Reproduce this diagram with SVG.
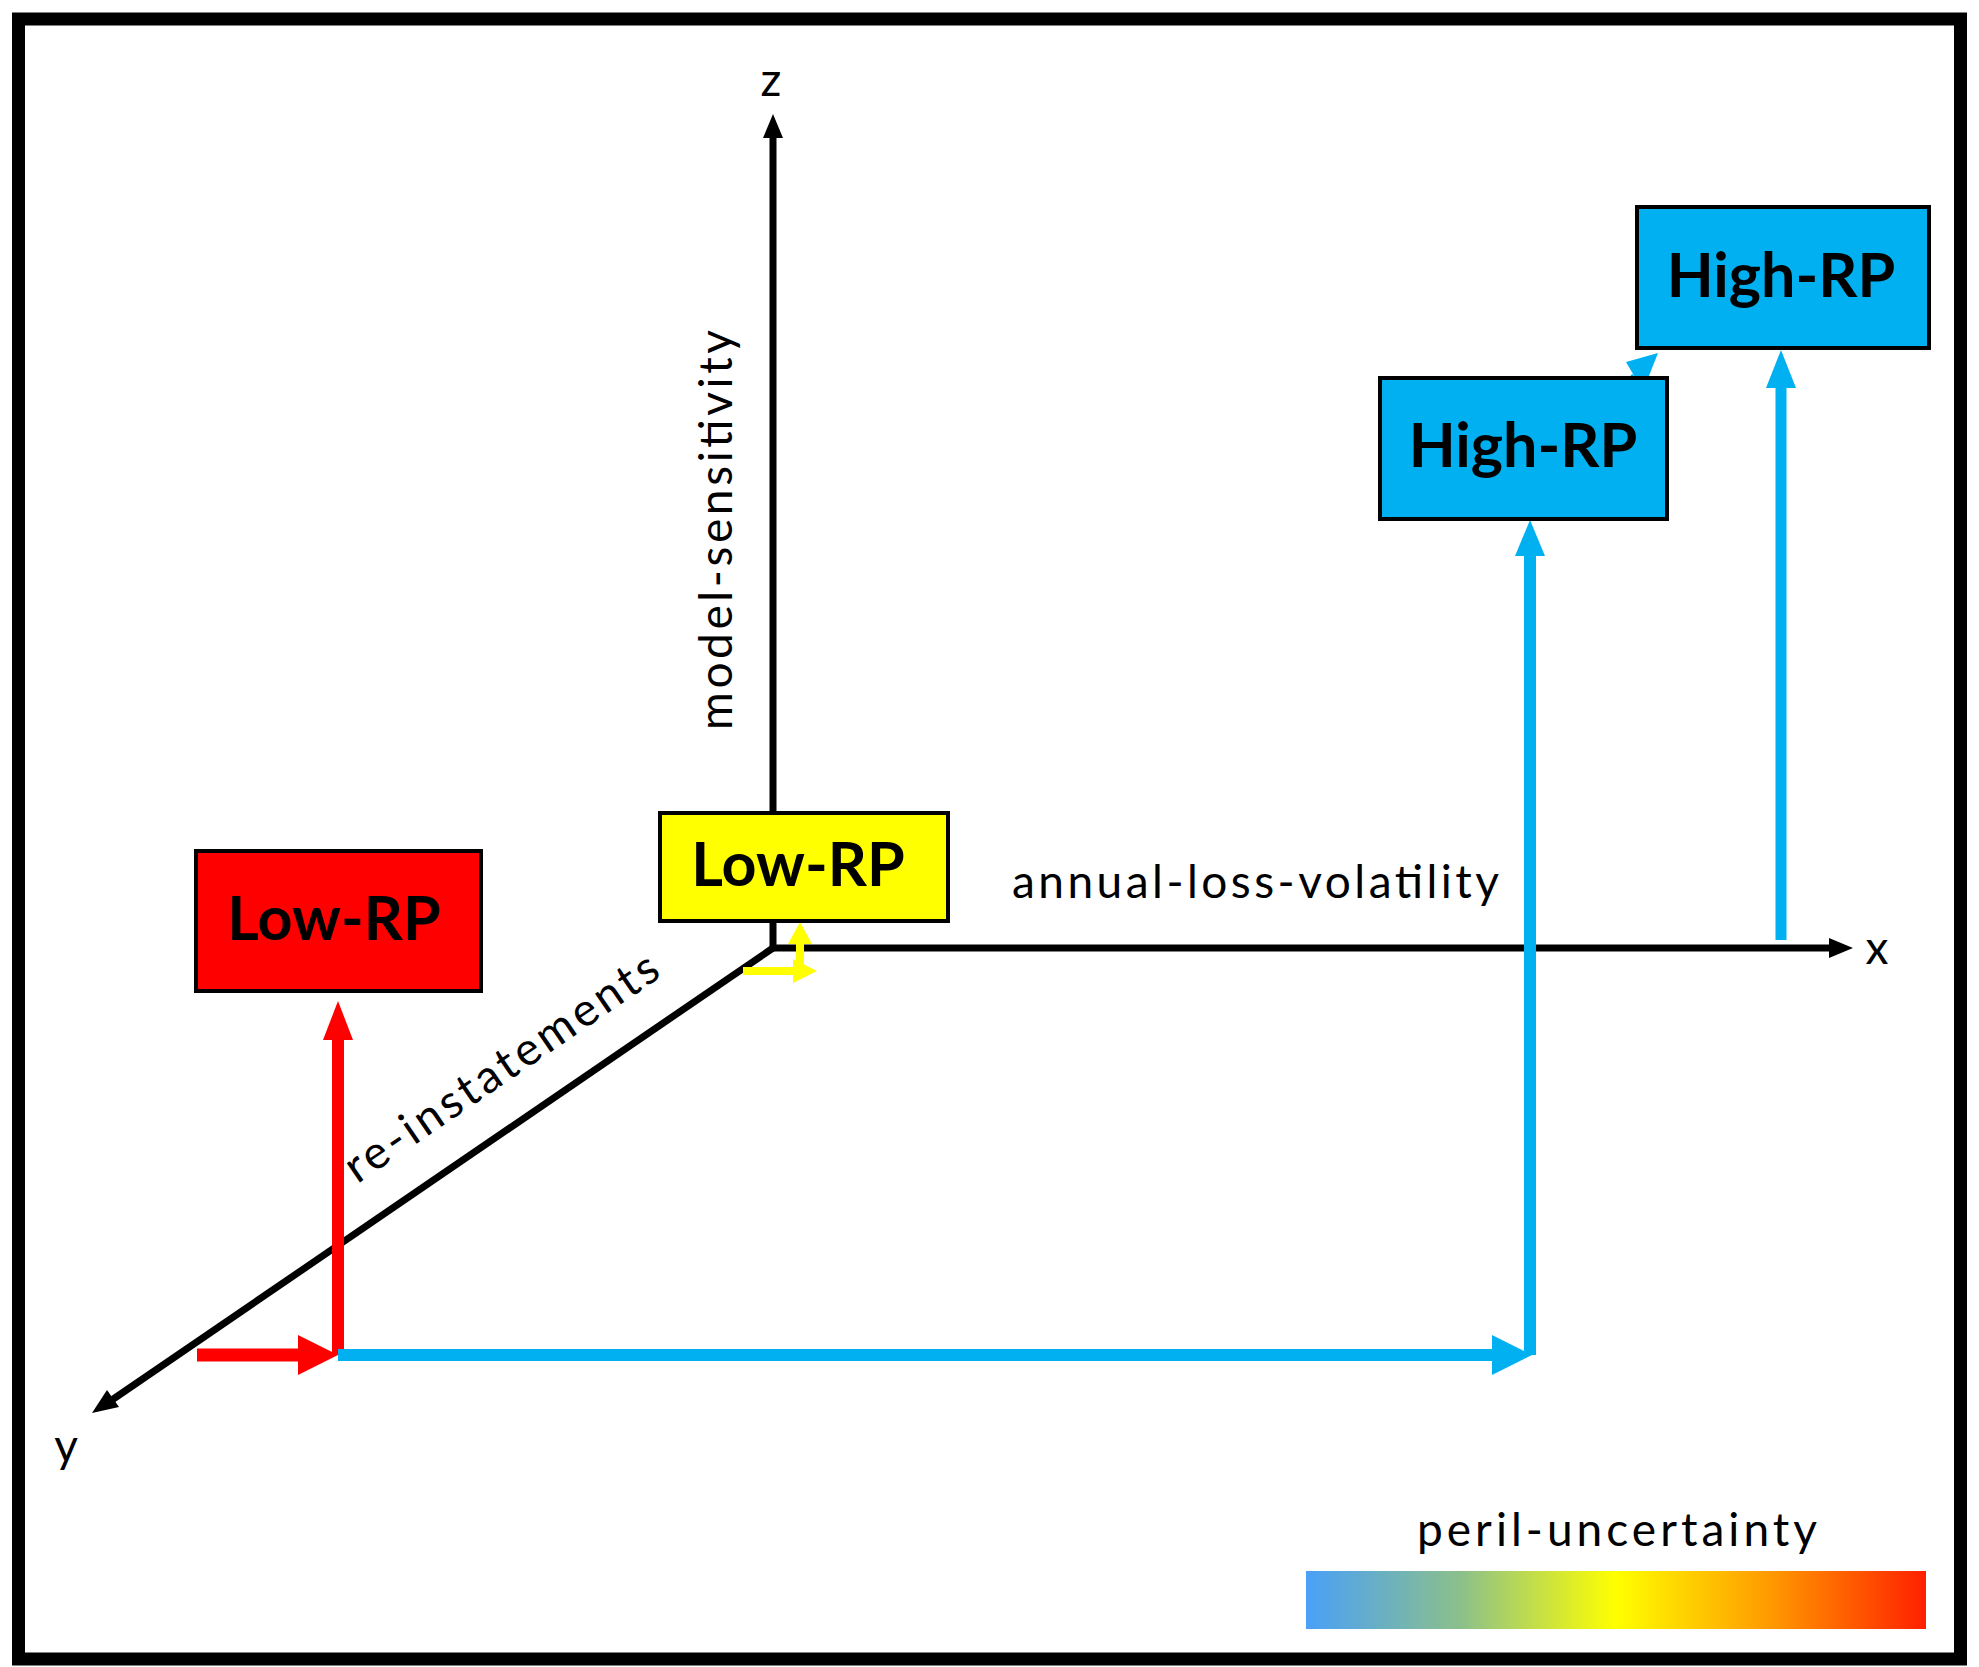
<svg xmlns="http://www.w3.org/2000/svg" width="1979" height="1667" viewBox="0 0 1979 1667">
<style>
.lbl{font-family:Lato,"Open Sans","DejaVu Sans",sans-serif;font-size:46px;fill:#000}
.node{font-family:Lato,"Open Sans","DejaVu Sans",sans-serif;font-weight:bold;font-size:61px;fill:#000;text-anchor:middle}
.box{stroke:#000;stroke-width:4}
</style>
<defs>
<linearGradient id="g" x1="0" x2="1" y1="0" y2="0">
<stop offset="0" stop-color="#4aa0f8"/>
<stop offset="0.25" stop-color="#8cc08a"/>
<stop offset="0.5" stop-color="#ffff00"/>
<stop offset="0.75" stop-color="#ff9900"/>
<stop offset="1" stop-color="#ff2000"/>
</linearGradient>
</defs>
<rect x="18.5" y="19" width="1942" height="1640" fill="#fff" stroke="#000" stroke-width="13"/>
<g id="connectors">
<!-- axes -->
<g stroke="#000" stroke-width="7" fill="none">
<line x1="773" y1="948" x2="773" y2="128"/>
<line x1="773" y1="948" x2="1835" y2="948"/>
<line x1="773" y1="948" x2="106" y2="1404"/>
</g>
<polygon points="773,114 763,138 783,138" fill="#000"/>
<polygon points="1853,948 1829,938 1829,958" fill="#000"/>
<polygon points="92,1413 107,1390 119,1407" fill="#000"/>
<!-- red -->
<line x1="197" y1="1355" x2="300" y2="1355" stroke="#f00" stroke-width="13"/>
<polygon points="338,1355 298,1335 298,1375" fill="#f00"/>
<line x1="338" y1="1355" x2="338" y2="1035" stroke="#f00" stroke-width="12"/>
<polygon points="338,1001 323,1040 353,1040" fill="#f00"/>
<!-- blue -->
<line x1="338" y1="1355" x2="1495" y2="1355" stroke="#00b0f0" stroke-width="12"/>
<polygon points="1532,1355 1492,1335 1492,1375" fill="#00b0f0"/>
<line x1="1530" y1="1355" x2="1530" y2="555" stroke="#00b0f0" stroke-width="12"/>
<polygon points="1530,520 1515,556 1545,556" fill="#00b0f0"/>
<line x1="1781" y1="940" x2="1781" y2="385" stroke="#00b0f0" stroke-width="11"/>
<polygon points="1781,350 1766,388 1796,388" fill="#00b0f0"/>
<line x1="1583" y1="427" x2="1636" y2="378" stroke="#00b0f0" stroke-width="11"/>
<polygon points="1658,353 1626,362 1643,391" fill="#00b0f0"/>
<!-- yellow -->
<line x1="800" y1="966" x2="800" y2="940" stroke="#ff0" stroke-width="8"/>
<polygon points="800,922 788,944 812,944" fill="#ff0"/>
<line x1="743" y1="971" x2="795" y2="971" stroke="#ff0" stroke-width="8"/>
<polygon points="817,971 793,959 793,983" fill="#ff0"/>
</g>
<g id="node-low-red"><rect class="box" x="196" y="851" width="285" height="140" fill="#f00"/><text class="node" x="334" y="940">Low-RP</text></g>
<g id="node-low-yellow"><rect class="box" x="660" y="813" width="288" height="108" fill="#ff0"/><text class="node" x="798" y="886">Low-RP</text></g>
<g id="node-high-1"><rect class="box" x="1380" y="378" width="287" height="141" fill="#00b0f0"/><text class="node" x="1523" y="467">High-RP</text></g>
<g id="node-high-2"><rect class="box" x="1637" y="207" width="292" height="141" fill="#00b0f0"/><text class="node" x="1781" y="297">High-RP</text></g>
<g id="labels">
<text class="lbl" x="771" y="96" text-anchor="middle">z</text>
<text class="lbl" x="1877" y="964" text-anchor="middle">x</text>
<text class="lbl" x="66" y="1462" text-anchor="middle">y</text>
<text class="lbl" transform="translate(732,530) rotate(-90)" text-anchor="middle" textLength="400">model-sensitivity</text>
<text class="lbl" x="1012" y="898" textLength="487">annual-loss-volatility</text>
<text class="lbl" transform="translate(510,1080) rotate(-34.3)" text-anchor="middle" textLength="370">re-instatements</text>
<text class="lbl" x="1617" y="1546" text-anchor="middle" textLength="400">peril-uncertainty</text>
</g>
<rect x="1306" y="1571" width="620" height="58" fill="url(#g)"/>
</svg>
